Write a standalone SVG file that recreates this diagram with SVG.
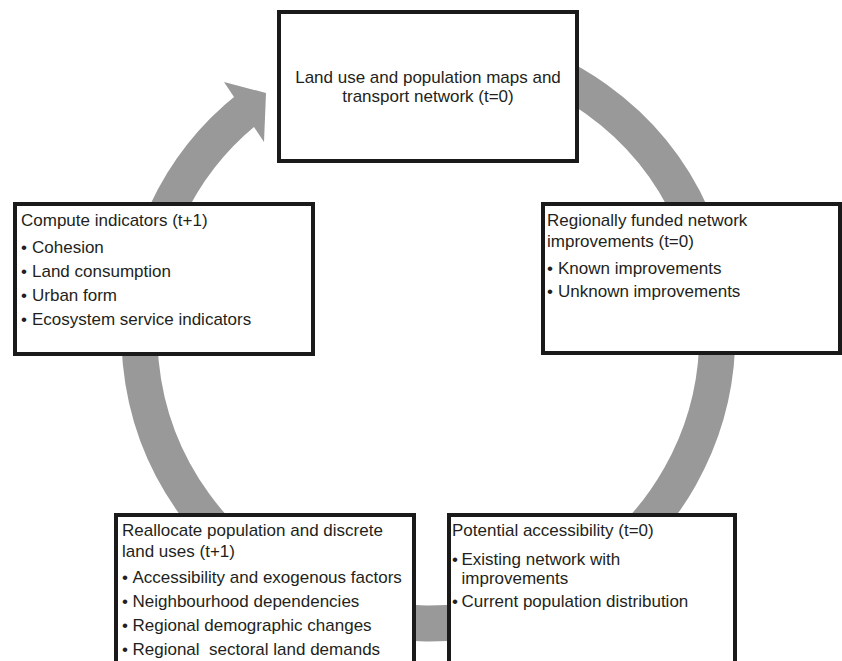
<svg xmlns="http://www.w3.org/2000/svg" width="842" height="661" viewBox="0 0 842 661">
<style>
.box{fill:#ffffff;stroke:#1a1a1a;stroke-width:4}
.t{font-family:"Liberation Sans",Arial,sans-serif;font-size:17px;fill:#231f20}
.c{text-anchor:middle}
.ring{fill:none;stroke:#999999;stroke-width:36}
.head{fill:#999999}
</style>
<rect width="842" height="661" fill="#ffffff"/>
<g id="connectors">
<path class="ring" d="M321.4,66.0 A289,289 0 1 1 249.1,107.8"/>
<polygon class="head" points="224,82 266,93 264,142"/>
</g>
<g id="node-top">
<rect class="box" x="279" y="12" width="298" height="149"/>
<text class="t c" x="428" y="83">Land use and population maps and</text>
<text class="t c" x="428" y="102">transport network (t=0)</text>
</g>
<g id="node-compute">
<rect class="box" x="15" y="204" width="298" height="150"/>
<text class="t" x="21" y="226">Compute indicators (t+1)</text>
<text class="t" x="21" y="253">•</text><text class="t" x="32" y="253">Cohesion</text>
<text class="t" x="21" y="277">•</text><text class="t" x="32" y="277">Land consumption</text>
<text class="t" x="21" y="301">•</text><text class="t" x="32" y="301">Urban form</text>
<text class="t" x="21" y="325">•</text><text class="t" x="32" y="325">Ecosystem service indicators</text>
</g>
<g id="node-regional">
<rect class="box" x="543" y="204" width="297" height="149"/>
<text class="t" x="547" y="226">Regionally funded network</text>
<text class="t" x="547" y="246.5">improvements (t=0)</text>
<text class="t" x="547" y="274">•</text><text class="t" x="558" y="274">Known improvements</text>
<text class="t" x="547" y="297">•</text><text class="t" x="558" y="297">Unknown improvements</text>
</g>
<g id="node-reallocate">
<rect class="box" x="116" y="515" width="298" height="200"/>
<text class="t" x="122" y="536">Reallocate population and discrete</text>
<text class="t" x="122" y="556.5">land uses (t+1)</text>
<text class="t" x="122" y="583">•</text><text class="t" x="132.5" y="583">Accessibility and exogenous factors</text>
<text class="t" x="122" y="607">•</text><text class="t" x="132.5" y="607">Neighbourhood dependencies</text>
<text class="t" x="122" y="631">•</text><text class="t" x="132.5" y="631">Regional demographic changes</text>
<text class="t" x="122" y="655">•</text><text class="t" x="132.5" y="655" xml:space="preserve">Regional  sectoral land demands</text>
</g>
<g id="node-potential">
<rect class="box" x="449" y="515" width="286" height="200"/>
<text class="t" x="452" y="536">Potential accessibility (t=0)</text>
<text class="t" x="452" y="565">•</text><text class="t" x="461.5" y="565">Existing network with</text>
<text class="t" x="461.5" y="583.5">improvements</text>
<text class="t" x="452" y="607">•</text><text class="t" x="461.5" y="607">Current population distribution</text>
</g>
</svg>
